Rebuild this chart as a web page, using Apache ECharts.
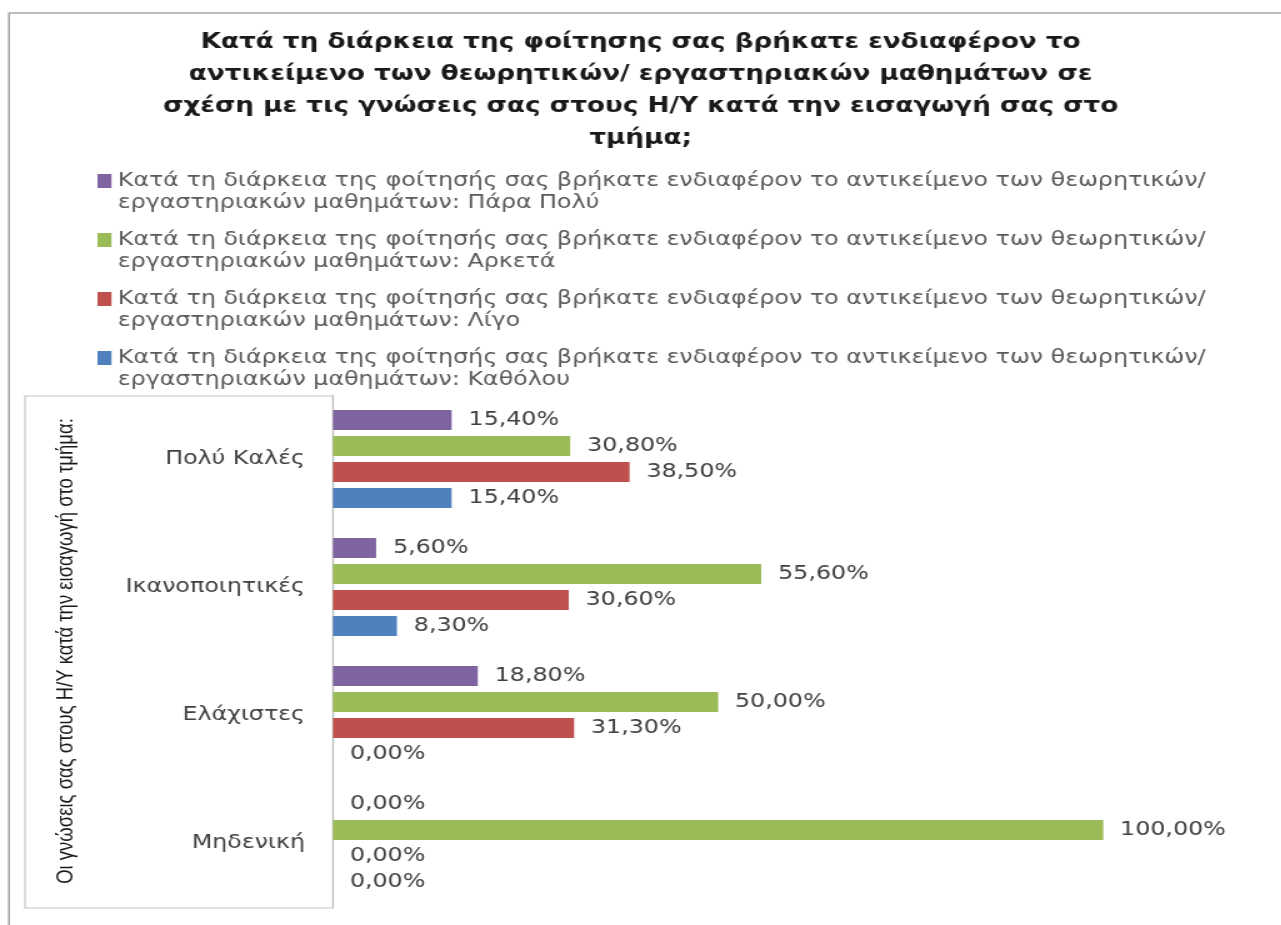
<!DOCTYPE html>
<html>
<head>
<meta charset="utf-8">
<script src="https://cdn.jsdelivr.net/npm/echarts@6/dist/echarts.min.js"></script>
<style>
  html, body { margin: 0; padding: 0; background: #fff; overflow: hidden; }
  /* το πρωτότυπο είναι τεντωμένο οριζόντια (~1.25x) */
  #chart { width: 1025px; height: 925px; transform: scaleX(1.25); transform-origin: 0 0; }
</style>
</head>
<body>
<div id="chart"></div>
<script>
// κατηγορίες (άξονας y, από πάνω προς τα κάτω)
var categories = ['Πολύ Καλές', 'Ικανοποιητικές', 'Ελάχιστες', 'Μηδενική'];

var prefix = 'Κατά τη διάρκεια της φοίτησής σας βρήκατε ενδιαφέρον το αντικείμενο των θεωρητικών/\nεργαστηριακών μαθημάτων: ';
var seriesNames = [prefix + 'Πάρα Πολύ', prefix + 'Αρκετά', prefix + 'Λίγο', prefix + 'Καθόλου'];
var seriesColors = ['#8064a2', '#9bbb59', '#c0504d', '#4f81bd'];

// τιμές σε %
var paraPolu = [15.4, 5.6, 18.8, 0];
var arketa = [30.8, 55.6, 50.0, 100];
var ligo = [38.5, 30.6, 31.3, 0];
var katholou = [15.4, 8.3, 0, 0];
var seriesValues = [paraPolu, arketa, ligo, katholou];

var titleText = 'Κατά τη διάρκεια της φοίτησης σας βρήκατε ενδιαφέρον το\n' +
  'αντικείμενο των θεωρητικών/ εργαστηριακών μαθημάτων σε\n' +
  'σχέση με τις γνώσεις σας στους Η/Υ κατά την εισαγωγή σας στο\n' +
  'τμήμα;';
var axisName = 'Οι γνώσεις σας στους Η/Υ κατά την εισαγωγή στο τμήμα:';

var myChart = echarts.init(document.getElementById('chart'));

var series = seriesValues.map(function (vals, i) {
  return {
    name: seriesNames[i],
    type: 'bar',
    data: vals,
    barWidth: 20,
    barGap: '30%',
    itemStyle: { color: seriesColors[i] },
    label: {
      show: true,
      position: 'right',
      distance: 13.5,
      color: '#404040',
      fontFamily: 'DejaVu Sans',
      fontSize: 19,
      formatter: function (p) {
        return p.value.toFixed(2).replace('.', ',') + '%';
      }
    }
  };
});

var option = {
  backgroundColor: '#fff',
  animation: false,
  title: {
    text: titleText,
    left: 'center',
    top: 27,
    padding: [0, 0, 0, 13],
    textStyle: {
      fontFamily: 'DejaVu Sans',
      fontWeight: 'bold',
      fontSize: 21,
      lineHeight: 32,
      color: '#1a1a1a'
    }
  },
  legend: {
    orient: 'vertical',
    left: 78,
    top: 170,
    padding: 0,
    itemGap: 15,
    itemWidth: 11.2,
    itemHeight: 36,
    // τετράγωνο στην πρώτη γραμμή του κειμένου
    icon: 'path://M0,0h11.2v14h-11.2z M0,36h11.2',
    textStyle: {
      fontFamily: 'DejaVu Sans',
      fontSize: 19,
      lineHeight: 22,
      color: '#595959'
    },
    data: seriesNames
  },
  grid: {
    left: 266.4,
    right: 142.4,
    top: 395,
    bottom: 18,
    containLabel: false
  },
  xAxis: {
    type: 'value',
    min: 0,
    max: 100,
    show: false
  },
  yAxis: {
    type: 'category',
    data: categories,
    inverse: true,
    axisTick: { show: false },
    axisLine: { show: true, lineStyle: { color: '#bfbfbf', width: 1.2 } },
    axisLabel: {
      margin: 22.4,
      color: '#404040',
      fontFamily: 'DejaVu Sans',
      fontSize: 19
    },
    name: axisName,
    nameLocation: 'middle',
    nameGap: 204,
    nameTextStyle: {
      fontFamily: 'Liberation Sans',
      fontSize: 18.5,
      color: '#1a1a1a'
    }
  },
  graphic: [
    {
      type: 'rect',
      shape: { x: 7.2, y: 13, width: 1040, height: 940 },
      style: { fill: null, stroke: '#a6a6a6', lineWidth: 1.6 },
      silent: true
    },
    {
      type: 'rect',
      shape: { x: 20, y: 396, width: 246.4, height: 512 },
      style: { fill: null, stroke: '#c4c4c4', lineWidth: 1.2 },
      silent: true
    }
  ],
  series: series
};

myChart.setOption(option);
window.onresize = function () {
  myChart.resize();
};
</script>
</body>
</html>
